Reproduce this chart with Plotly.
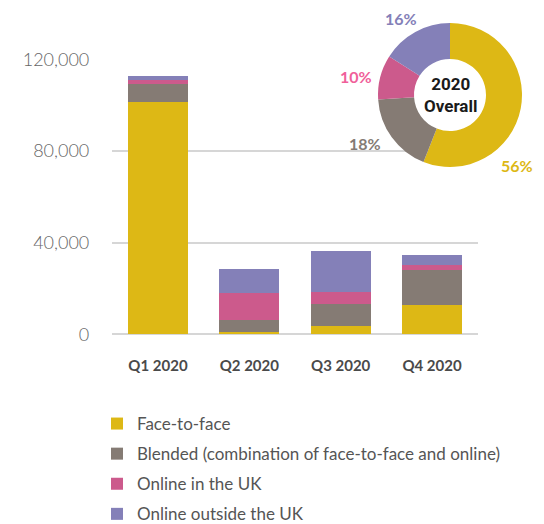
import plotly.graph_objects as go

quarters = ["Q1 2020", "Q2 2020", "Q3 2020", "Q4 2020"]
face_to_face = [101400, 1100, 3600, 12650]
blended = [7700, 5000, 9500, 15550]
online_uk = [1900, 11800, 5500, 1900]
online_outside = [1600, 10500, 17750, 4500]

series_names = ["Face-to-face", "Blended (combination of face-to-face and online)",
                "Online in the UK", "Online outside the UK"]
pie_labels = ["Face-to-face", "Blended", "Online in the UK", "Online outside the UK"]
pie_pct = [56, 18, 10, 16]

colors = ["#DDB815", "#857B74", "#CC5A8C", "#8480B8"]

W, H = 544, 524
OFF = 8  # page body margin


def fx(px):
    return (px - OFF) / W


def fy(py):
    return 1 - (py - OFF) / H


fig = go.Figure()
for i, (name, vals, c) in enumerate(zip(series_names, [face_to_face, blended, online_uk, online_outside], colors)):
    fig.add_trace(go.Bar(x=quarters, y=vals, name=name, legendgroup=f"g{i}",
                         marker=dict(color=c, line=dict(width=0)), width=0.66))

# pie
cx, cy, d = 450, 95, 144
fig.add_trace(go.Pie(labels=pie_labels, values=pie_pct, hole=0.5, sort=False,
                     direction="clockwise", rotation=0, textinfo="none", showlegend=False,
                     marker=dict(colors=colors, line=dict(width=0)),
                     domain=dict(x=[fx(cx - d / 2), fx(cx + d / 2)],
                                 y=[fy(cy + d / 2), fy(cy - d / 2)])))

label_pos = [(517, 165), (365, 143), (356, 76), (401, 19)]
pie_text_colors = ["#DDB815", "#857B74", "#F0609A", "#8480B8"]
for p, (px, py), c in zip(pie_pct, label_pos, pie_text_colors):
    fig.add_annotation(x=fx(px), y=fy(py), xref="paper", yref="paper",
                       xanchor="center", yanchor="middle",
                       text=f"<b>{p}%</b>", showarrow=False,
                       font=dict(family="Lato", size=16, color=c))
fig.add_annotation(x=fx(cx), y=fy(cy), xref="paper", yref="paper",
                   xanchor="center", yanchor="middle",
                   text="<b>2020</b><br><b>Overall</b>", showarrow=False,
                   font=dict(family="Roboto", size=17, color="#1a1a1a"))

fig.update_layout(
    width=W, height=H, barmode="stack",
    margin=dict(l=0, r=0, t=0, b=0, autoexpand=False),
    paper_bgcolor="white", plot_bgcolor="white",
    font=dict(family="Lato", color="#555555"),
    xaxis=dict(domain=[fx(112.3), fx(477.7)], showgrid=False, showline=False, zeroline=False,
               automargin=False,
               tickfont=dict(family="Lato", size=15, color="#4a4a4a", weight="bold"),
               ticklabelstandoff=21),
    yaxis=dict(domain=[fy(334.3), fy(59.3)], range=[0, 120000], automargin=False,
               tickvals=[0, 40000, 80000, 120000], tickformat=",",
               gridcolor="#d6d6d6", gridwidth=1.5, zeroline=True, zerolinecolor="#d6d6d6",
               zerolinewidth=1.5, showline=False,
               tickfont=dict(family="Lato", size=18, color="#666666", weight=300),
               ticklabelstandoff=22),
    legend=dict(x=fx(97), y=fy(406), xanchor="left", yanchor="top",
                traceorder="grouped", font=dict(family="Lato", size=17, color="#555555"),
                tracegroupgap=5, itemsizing="constant"),
    showlegend=True,
)
fig.write_html("out.html")
